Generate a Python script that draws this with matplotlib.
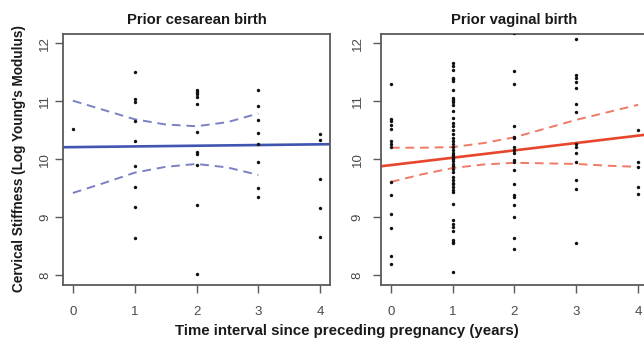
import matplotlib
matplotlib.use("Agg")
import matplotlib.pyplot as plt

plt.rcParams['font.family'] = ['Liberation Sans', 'DejaVu Sans']

# Prior cesarean birth: measurements by interval (years)
ces_x = [0,
         1, 1, 1, 1, 1, 1, 1, 1, 1,
         2, 2, 2, 2, 2, 2, 2, 2, 2, 2, 2,
         3, 3, 3, 3, 3, 3, 3, 3,
         4, 4, 4, 4, 4]
ces_y = [10.52,
         11.51, 11.04, 10.98, 10.66, 10.32, 9.89, 9.53, 9.17, 8.64,
         11.19, 11.16, 11.13, 11.07, 10.95, 10.47, 10.12, 10.09, 9.91, 9.22, 8.03,
         11.19, 10.92, 10.67, 10.45, 10.27, 9.96, 9.50, 9.35,
         10.43, 10.34, 9.66, 9.16, 8.66]
ces_fit = (10.21, 0.012)  # intercept, slope
ces_ci_x = [0, 0.5, 1, 1.5, 2, 2.5, 3]
ces_ci_hi = [11.01, 10.85, 10.69, 10.60, 10.57, 10.64, 10.79]
ces_ci_lo = [9.42, 9.59, 9.77, 9.87, 9.92, 9.86, 9.73]

# Prior vaginal birth
vag_0 = [11.30, 10.69, 10.66, 10.59, 10.52, 10.32, 10.27, 10.22, 9.61, 9.39,
         9.05, 8.82, 8.33, 8.19]
vag_1 = [11.66, 11.60, 11.54, 11.41, 11.39, 11.35, 11.20, 11.05, 11.02, 10.98,
         10.93, 10.83, 10.71, 10.62, 10.58, 10.50, 10.44, 10.37, 10.32, 10.27,
         10.21, 10.16, 10.11, 10.07, 10.04, 10.01, 9.97, 9.92, 9.88, 9.84,
         9.78, 9.69, 9.65, 9.60, 9.57, 9.52, 9.47, 9.43, 9.23, 8.96,
         8.88, 8.83, 8.77, 8.61, 8.57, 8.55, 8.06]
vag_2 = [12.17, 11.53, 11.30, 10.58, 10.39, 10.36, 10.21, 10.16, 10.11, 9.98,
         9.96, 9.82, 9.57, 9.38, 9.35, 9.21, 9.00, 8.65, 8.45]
vag_3 = [12.07, 11.45, 11.40, 11.34, 11.23, 10.96, 10.81, 10.27, 10.22, 10.11,
         9.96, 9.64, 9.49, 8.55]
vag_4 = [10.51, 9.96, 9.87, 9.52, 9.41]
vag_fit = (9.90, 0.127)
vag_ci_x = [0, 0.5, 1, 1.5, 2, 2.5, 3, 3.5, 4]
vag_ci_hi = [10.20, 10.20, 10.21, 10.28, 10.38, 10.53, 10.68, 10.81, 10.94]
vag_ci_lo = [9.61, 9.74, 9.85, 9.91, 9.94, 9.93, 9.92, 9.89, 9.87]

vag_x = []
vag_y = []
for k, vals in enumerate([vag_0, vag_1, vag_2, vag_3, vag_4]):
    vag_x += [k] * len(vals)
    vag_y += vals

W, H = 644, 342
fig = plt.figure(figsize=(W / 100, H / 100), dpi=100)

frame = '#5a5a5a'
tick_col = '#4a4a4a'


def panel(left, title, xs, ys, fit, ci_x, ci_hi, ci_lo, c_line, c_ci, ypad):
    ax = fig.add_axes([left / W, 1 - 284.6 / H, 267 / W, 250.6 / H])
    ax.set_xlim(-0.16, 4.16)
    ax.set_ylim(7.84, 12.16)
    ax.scatter(xs, ys, s=6, color='#111111', zorder=3, linewidths=0)
    lx = [-0.16, 4.16]
    ax.plot(lx, [fit[0] + fit[1] * v for v in lx], color=c_line, lw=1.9, zorder=2)
    for band in (ci_hi, ci_lo):
        ax.plot(ci_x, band, color=c_ci, lw=1.4, dashes=(4.5, 3), zorder=2)
    ax.set_xticks([0, 1, 2, 3, 4])
    ax.set_yticks([8, 9, 10, 11, 12])
    ax.tick_params(length=5.5, width=1.0, color=frame, labelcolor=tick_col,
                   labelsize=9.5)
    ax.tick_params(axis='x', pad=10)
    ax.tick_params(axis='y', pad=ypad)
    for lab in ax.get_yticklabels():
        lab.set_rotation(90)
        lab.set_va('center')
    for sp in ax.spines.values():
        sp.set_color(frame)
        sp.set_linewidth(1.3)
    ax.set_title(title, fontsize=10.7, fontweight='bold', color='#1a1a1a', pad=7)
    return ax


panel(63, 'Prior cesarean birth', ces_x, ces_y, ces_fit,
      ces_ci_x, ces_ci_hi, ces_ci_lo, '#3f55b0', '#7b80c4', 3)
panel(381, 'Prior vaginal birth', vag_x, vag_y, vag_fit,
      vag_ci_x, vag_ci_hi, vag_ci_lo, '#e8462c', '#f07a66', 7)

fig.text(19 / W, 1 - 159 / H, "Cervical Stiffness (Log Young's Modulus)",
         rotation=90, ha='center', va='center', fontsize=9.8,
         fontweight='bold', color='#1a1a1a')
fig.text(347 / W, 1 - 331 / H, 'Time interval since preceding pregnancy (years)',
         ha='center', va='center', fontsize=10.8, fontweight='bold', color='#1a1a1a')

fig.savefig('out.png', dpi=100)
